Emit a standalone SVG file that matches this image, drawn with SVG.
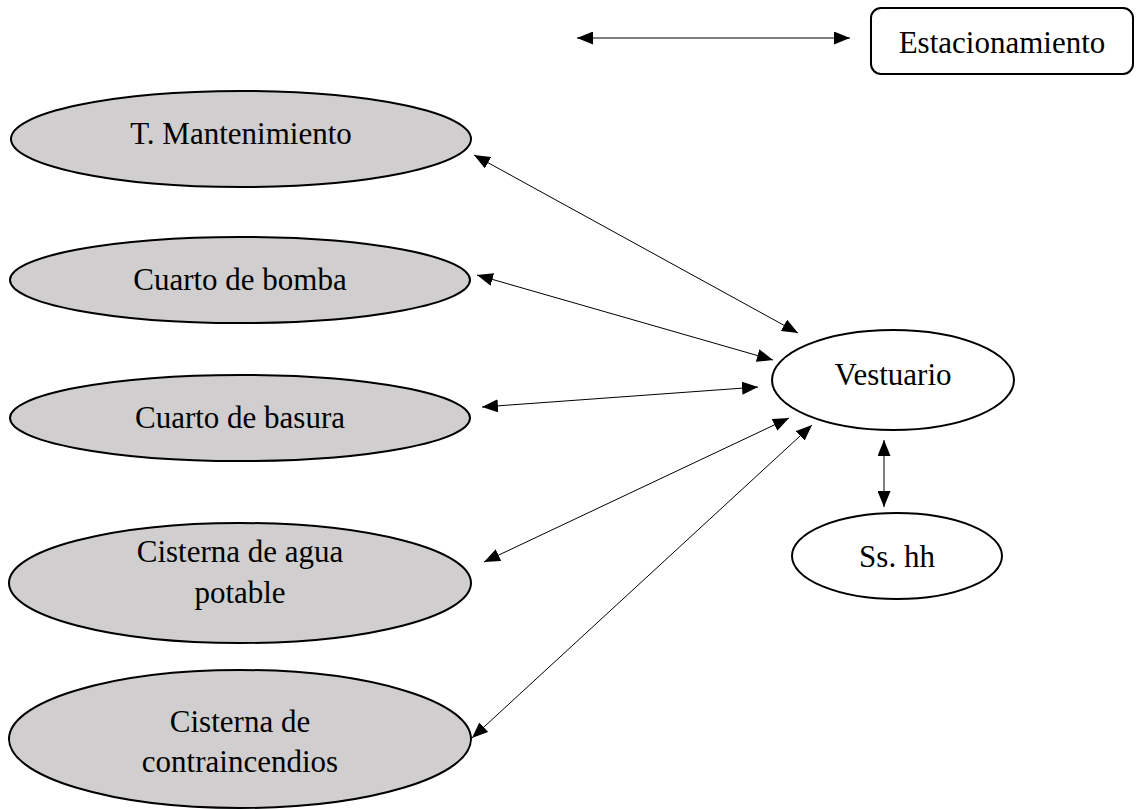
<svg xmlns="http://www.w3.org/2000/svg" width="1138" height="809" viewBox="0 0 1138 809">
<style>
.g{fill:#d0cece;stroke:#000;stroke-width:2}
.w{fill:#fff;stroke:#000;stroke-width:2}
text{font-family:"Liberation Serif","Times New Roman",serif;font-size:31px;fill:#000;text-anchor:middle}
.c line{stroke:#000;stroke-width:1;marker-start:url(#ah);marker-end:url(#ah)}
</style>
<defs>
<marker id="ah" viewBox="0 0 16 13" refX="16" refY="6.5" markerWidth="16" markerHeight="13" markerUnits="userSpaceOnUse" orient="auto-start-reverse">
<path d="M0,0 L16,6.5 L0,13 z" fill="#000"/>
</marker>
</defs>
<rect width="1138" height="809" fill="#fff"/>
<g id="estacionamiento"><rect class="w" x="871" y="8" width="262" height="66" rx="10"/><text x="1002" y="53">Estacionamiento</text></g>
<g id="mantenimiento"><ellipse class="g" cx="241" cy="139" rx="230" ry="48"/><text x="241" y="144">T. Mantenimiento</text></g>
<g id="bomba"><ellipse class="g" cx="240" cy="280" rx="230" ry="43"/><text x="240" y="290">Cuarto de bomba</text></g>
<g id="basura"><ellipse class="g" cx="240" cy="418" rx="230" ry="43"/><text x="240" y="428">Cuarto de basura</text></g>
<g id="agua"><ellipse class="g" cx="240" cy="583" rx="231" ry="60"/><text x="240" y="562">Cisterna de agua</text><text x="240" y="603">potable</text></g>
<g id="contraincendios"><ellipse class="g" cx="240" cy="739" rx="231" ry="69"/><text x="240" y="732">Cisterna de</text><text x="240" y="772">contraincendios</text></g>
<g id="vestuario"><ellipse class="w" cx="893" cy="380" rx="121" ry="50"/><text x="893" y="385">Vestuario</text></g>
<g id="sshh"><ellipse class="w" cx="897" cy="556" rx="105" ry="43"/><text x="897" y="567">Ss. hh</text></g>
<g id="connectors" class="c">
<line x1="577" y1="38" x2="850" y2="38"/>
<line x1="474" y1="155" x2="798" y2="333"/>
<line x1="477" y1="275" x2="773" y2="360"/>
<line x1="482" y1="407" x2="758" y2="387"/>
<line x1="484" y1="562" x2="789" y2="418"/>
<line x1="472" y1="738" x2="812" y2="425"/>
<line x1="884" y1="440" x2="884" y2="507"/>
</g>
</svg>
